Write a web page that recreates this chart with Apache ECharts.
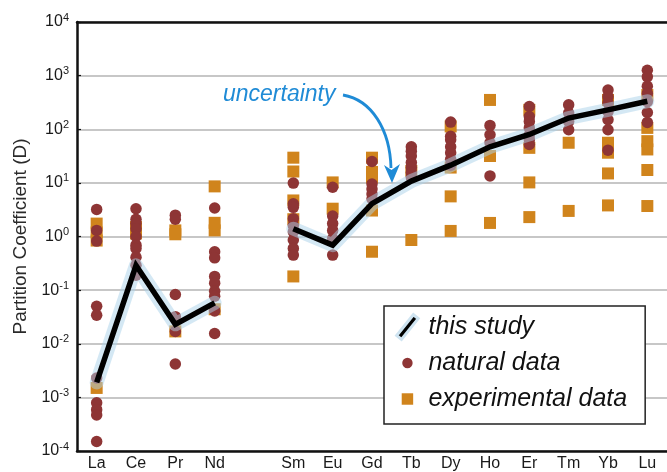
<!DOCTYPE html>
<html>
<head>
<meta charset="utf-8">
<script src="https://cdn.jsdelivr.net/npm/echarts@6/dist/echarts.min.js"></script>
<style>
  html, body { margin: 0; padding: 0; background: #fff; }
  #chart { width: 667px; height: 472px; }
</style>
</head>
<body>
<div id="chart"></div>
<script>
// Rare earth elements (blank slot keeps the Pm gap)
const elements = ['La', 'Ce', 'Pr', 'Nd', '', 'Sm', 'Eu', 'Gd', 'Tb', 'Dy', 'Ho', 'Er', 'Tm', 'Yb', 'Lu'];

// Partition coefficients from this study (null = no value for Pm)
const thisStudy = [0.0019, 0.29, 0.023, 0.058, null, 1.4, 0.69, 4.1, 10.8, 21.4, 47, 80, 162, 230, 333];

// Natural data, one list per element
const naturalData = [
  [3.2, 1.3, 0.82, 0.050, 0.034, 0.0023, 0.00079, 0.00059, 0.00047, 0.00015],
  [3.3, 2.1, 1.74, 1.4, 1.0, 0.69, 0.6, 0.41, 0.29, 0.19],
  [2.5, 2.1, 0.083, 0.032, 0.017, 0.0042],
  [3.4, 0.52, 0.40, 0.18, 0.135, 0.095, 0.077, 0.041, 0.0155],
  [],
  [9.9, 4.06, 3.5, 2.15, 1.6, 1.22, 0.86, 0.6, 0.45],
  [8.3, 2.4, 1.74, 1.3, 0.92, 0.45],
  [25, 9.5, 7.7, 6.2, 5.0],
  [47, 39, 31.7, 24, 19.3, 15.6, 12.6],
  [136, 74, 64, 47, 36.5, 27.5, 21.3],
  [118, 79, 56, 13.5],
  [265, 173, 140, 106, 79, 64, 52],
  [285, 200, 140, 98],
  [540, 405, 309, 213, 150, 98, 40.7],
  [1260, 950, 635, 466, 328, 205, 134]
];

// Experimental data, one list per element
const experimentalData = [
  [1.74, 1.19, 0.84, 0.0015],
  [1.5, 1.14],
  [1.3, 1.1, 0.017],
  [8.6, 1.8, 1.3, 0.044],
  [],
  [29.5, 16.3, 4.7, 2.1, 0.18],
  [10.2, 3.3],
  [29.5, 16, 12.6, 3.05, 0.52],
  [16.7, 0.86],
  [113, 19.3, 5.6, 1.27],
  [352, 31.7, 1.79],
  [230, 45, 10.2, 2.3],
  [56, 3.0],
  [352, 56, 36.5, 15, 3.8],
  [435, 106, 60, 42, 17.4, 3.7]
];

function toPoints(groups) {
  const pts = [];
  groups.forEach((vals, i) => vals.forEach(v => pts.push([i, v])));
  return pts;
}

const FONT = '"Liberation Sans", Arial, Helvetica, sans-serif';
const RED = '#8e3535';
const ORANGE = '#d0841c';
const BLUE = '#1f8bd6';

const chart = echarts.init(document.getElementById('chart'));

chart.setOption({
  animation: false,
  backgroundColor: '#fff',
  textStyle: { fontFamily: FONT },
  grid: { left: 77, right: 0, top: 22, bottom: 17, containLabel: false },
  xAxis: [{
    type: 'category',
    data: elements,
    boundaryGap: true,
    axisLine: { lineStyle: { color: '#111', width: 2.5 } },
    axisTick: { inside: true, alignWithLabel: true, interval: 0, length: 5, lineStyle: { color: '#111', width: 1.2 } },
    axisLabel: { interval: 0, fontSize: 16, color: '#1a1a1a', margin: 5 },
    splitLine: { show: false }
  }, {
    type: 'category',
    position: 'top',
    data: elements,
    axisLine: { lineStyle: { color: '#111', width: 2.5 } },
    axisTick: { show: false },
    axisLabel: { show: false },
    splitLine: { show: false }
  }],
  yAxis: {
    type: 'log',
    logBase: 10,
    min: 1e-4,
    max: 1e4,
    splitNumber: 8,
    name: 'Partition Coefficient (D)',
    nameLocation: 'middle',
    nameGap: 43,
    nameTextStyle: { fontSize: 19, color: '#2a2a2a' },
    axisLine: { show: true, lineStyle: { color: '#111', width: 2.5 } },
    axisTick: { show: true, inside: true, length: 4, lineStyle: { color: '#111', width: 1.2 } },
    splitLine: { show: true, lineStyle: { color: '#b5b5b5', width: 1.5 } },
    axisLabel: {
      margin: 8,
      formatter: v => '{b|10}{s|' + Math.round(Math.log10(v)) + '}',
      rich: {
        b: { fontSize: 16, color: '#1a1a1a', fontFamily: FONT },
        s: { fontSize: 11, color: '#1a1a1a', fontFamily: FONT, padding: [0, 0, 9, 0] }
      }
    }
  },
  legend: {
    orient: 'vertical',
    left: 384,
    top: 306,
    selectedMode: false,
    backgroundColor: '#fff',
    borderColor: '#222',
    borderWidth: 1.5,
    borderRadius: 0,
    padding: [6, 18, 10, 11],
    itemGap: 6,
    itemWidth: 22,
    itemHeight: 25,
    textStyle: { fontSize: 25, fontStyle: 'italic', color: '#111', lineHeight: 30, padding: [0, 0, 0, 5], fontFamily: FONT },
    data: [
      {
        name: 'this study',
        icon: 'path://M0,0M21,24M0.2,20.1L16.2,0.2L20.8,3.9L4.8,23.9Z',
        itemStyle: { color: '#000', borderColor: '#cfe4f1', borderWidth: 3 }
      },
      {
        name: 'natural data',
        icon: 'path://M0,0M21,24M5.5,12A5,5,0,1,1,15.5,12A5,5,0,1,1,5.5,12Z',
        itemStyle: { color: RED, borderWidth: 0 }
      },
      {
        name: 'experimental data',
        icon: 'path://M0,0M21,24M5,6.5h11v11h-11Z',
        itemStyle: { color: ORANGE, borderWidth: 0 }
      }
    ]
  },
  series: [
    {
      name: 'experimental data',
      type: 'scatter',
      symbol: 'rect',
      symbolSize: 12,
      itemStyle: { color: ORANGE, opacity: 1 },
      data: toPoints(experimentalData),
      z: 2
    },
    {
      name: 'natural data',
      type: 'scatter',
      symbol: 'circle',
      symbolSize: 11.5,
      itemStyle: { color: RED, opacity: 1 },
      data: toPoints(naturalData),
      z: 3
    },
    {
      name: 'uncertainty band',
      type: 'line',
      data: thisStudy,
      showSymbol: false,
      connectNulls: false,
      lineStyle: { color: 'rgba(170,210,233,0.5)', width: 14, cap: 'round', join: 'round' },
      silent: true,
      z: 4
    },
    {
      name: 'this study',
      type: 'line',
      data: thisStudy,
      showSymbol: false,
      connectNulls: false,
      lineStyle: { color: '#000', width: 5.5, cap: 'butt', join: 'miter' },
      z: 5
    }
  ],
  graphic: [
    {
      type: 'text',
      z: 10,
      style: { x: 223, y: 95, text: 'uncertainty', fill: BLUE, font: 'italic 23px ' + FONT, verticalAlign: 'middle' }
    },
    {
      type: 'bezierCurve',
      z: 10,
      shape: { x1: 343, y1: 95, cpx1: 372, cpy1: 100, cpx2: 390, cpy2: 130, x2: 391, y2: 168 },
      style: { stroke: BLUE, lineWidth: 2.8, fill: null }
    },
    {
      type: 'polygon',
      z: 10,
      shape: { points: [[392, 183], [384, 165], [391.5, 170], [400, 164]] },
      style: { fill: BLUE }
    }
  ]
});
</script>
</body>
</html>
